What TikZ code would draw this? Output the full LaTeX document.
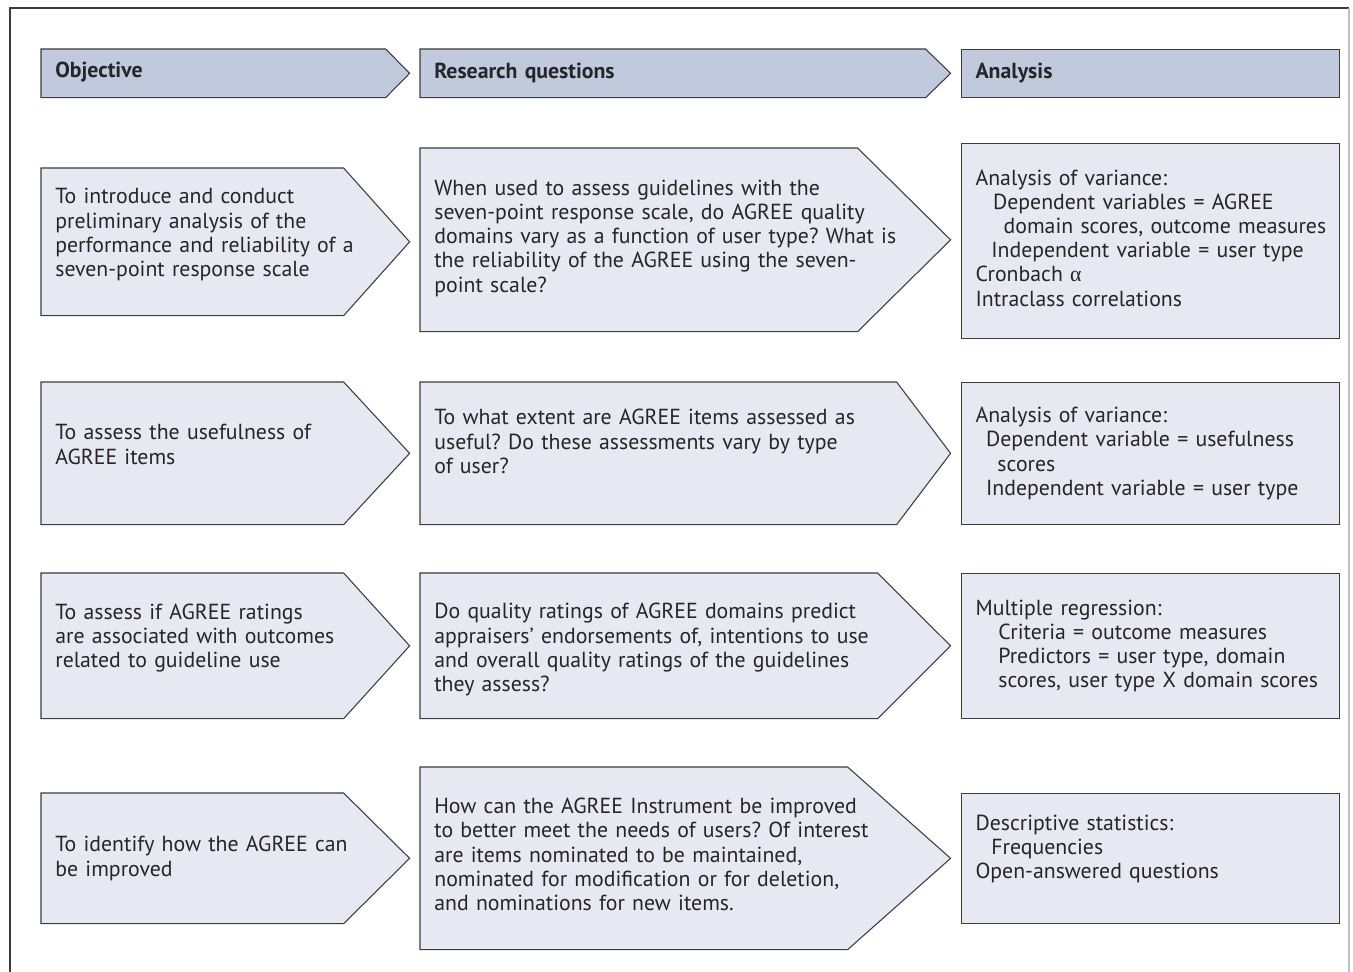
\documentclass[tikz,border=0pt]{standalone}
\usepackage{fontspec}
\setmainfont{PT Sans}
\newfontfamily\greekfont{Liberation Serif}
\frenchspacing
\usetikzlibrary{
  calc,
  backgrounds
}
\definecolor{headfill}{HTML}{C1C9DC}
\definecolor{cellfill}{HTML}{E6E8F2}
\definecolor{edge}{HTML}{3C3C3C}
\tikzset{
  every node/.style={anchor=north west, align=left, inner xsep=0.28cm, inner ysep=0pt,
    text=black!85, font=\fontsize{12.4}{13.8}\selectfont},
  headcell/.style={minimum height=0.96cm, font=\fontsize{12.4}{13.8}\selectfont\bfseries},
  objcell/.style={text width=6.8cm},
  qcell/.style={text width=10.04cm},
  acell/.style={text width=7cm, draw=edge, fill=cellfill, line width=0.6pt},
  boxline/.style={draw=edge, line width=0.6pt},
}
% pointed box behind a node: node, slant, fill
\newcommand{\pointbox}[3]{%
  \draw[boxline, fill=#3] (#1.north west) -- ($(#1.north east)+(-#2,0)$)
    -- (#1.east) -- ($(#1.south east)+(-#2,0)$) -- (#1.south west) -- cycle;}
% extra room under the text lifts it a little
\newcommand{\lift}[1]{\par\vspace*{#1}}

\begin{document}
\begin{tikzpicture}[x=0.02cm, y=-0.02cm]
  \useasboundingbox (0,0) rectangle (1353,972);
  % frame
  \draw[edge, line width=0.8pt] (10,972) -- (10,8) -- (1349,8);
  \draw[gray!50, line width=0.8pt] (1349,8) -- (1349,972);

  % header
  \node[headcell, objcell] (hobj) at (41,49) {Objective\lift{1pt}};
  \node[headcell, qcell] (hq) at (420,49) {Research questions\lift{1pt}};
  \node[headcell, acell, fill=headfill, minimum height=0.96cm] (han) at (961,49) {Analysis\lift{1pt}};

  % row 1
  \node[objcell, minimum height=2.94cm] (obj1) at (41,168) {
    To introduce and conduct\\
    preliminary analysis of the\\
    performance and reliability of a\\
    seven-point response scale\lift{8pt}
  };
  \node[qcell, minimum height=3.66cm] (q1) at (420,148) {
    When used to assess guidelines with the\\
    seven-point response scale, do AGREE quality\\
    domains vary as a function of user type? What is\\
    the reliability of the AGREE using the seven-\\
    point scale?\lift{2pt}
  };
  \node[acell, minimum height=3.9cm] (an1) at (961,143) {
    Analysis of variance:\\
    \hspace*{10pt}Dependent variables = AGREE\\
    \mbox{\hspace*{16pt}domain scores, outcome measures}\\
    \hspace*{9pt}Independent variable = user type\\
    Cronbach {\greekfont α}\\
    Intraclass correlations\lift{3.4pt}
  };

  % row 2
  \node[objcell, minimum height=2.84cm] (obj2) at (41,382) {
    To assess the usefulness of\\
    AGREE items\lift{10pt}
  };
  \node[qcell, minimum height=2.84cm] (q2) at (420,382) {
    To what extent are AGREE items assessed as\\
    useful? Do these assessments vary by type\\
    of user?\lift{13.6pt}
  };
  \node[acell, minimum height=2.84cm] (an2) at (961,382) {
    Analysis of variance:\\
    \hspace*{6pt}Dependent variable = usefulness\\
    \hspace*{12.5pt}scores\\
    \hspace*{6pt}Independent variable = user type
  };

  % row 3
  \node[objcell, minimum height=2.9cm] (obj3) at (41,573) {
    To assess if AGREE ratings\\
    are associated with outcomes\\
    related to guideline use\lift{9pt}
  };
  \node[qcell, minimum height=2.9cm] (q3) at (420,573) {
    Do quality ratings of AGREE domains predict\\
    appraisers’ endorsements of, intentions to use\\
    and overall quality ratings of the guidelines\\
    they assess?\lift{-4.5pt}
  };
  \node[acell, minimum height=2.9cm] (an3) at (961,573) {
    Multiple regression:\\
    \hspace*{13pt}Criteria = outcome measures\\
    \hspace*{13pt}Predictors = user type, domain\\
    \hspace*{13pt}scores, user type X domain scores
  };

  % row 4
  \node[objcell, minimum height=2.6cm] (obj4) at (41,793) {
    To identify how the AGREE can\\
    be improved
  };
  \node[qcell, minimum height=3.64cm] (q4) at (420,767) {
    How can the AGREE Instrument be improved\\
    to better meet the needs of users? Of interest\\
    are items nominated to be maintained,\\
    nominated for modification or for deletion,\\
    and nominations for new items.\lift{4.5pt}
  };
  \node[acell, minimum height=2.6cm] (an4) at (961,793) {
    Descriptive statistics:\\
    \hspace*{9pt}Frequencies\\
    Open-answered questions\lift{11pt}
  };

  \begin{scope}[on background layer]
    \pointbox{hobj}{24}{headfill}
    \pointbox{hq}{25}{headfill}
    \pointbox{obj1}{66}{cellfill}
    \pointbox{q1}{93}{cellfill}
    \pointbox{obj2}{66}{cellfill}
    \pointbox{q2}{54}{cellfill}
    \pointbox{obj3}{66}{cellfill}
    \pointbox{q3}{73}{cellfill}
    \pointbox{obj4}{66}{cellfill}
    \pointbox{q4}{103}{cellfill}
  \end{scope}
\end{tikzpicture}
\end{document}
